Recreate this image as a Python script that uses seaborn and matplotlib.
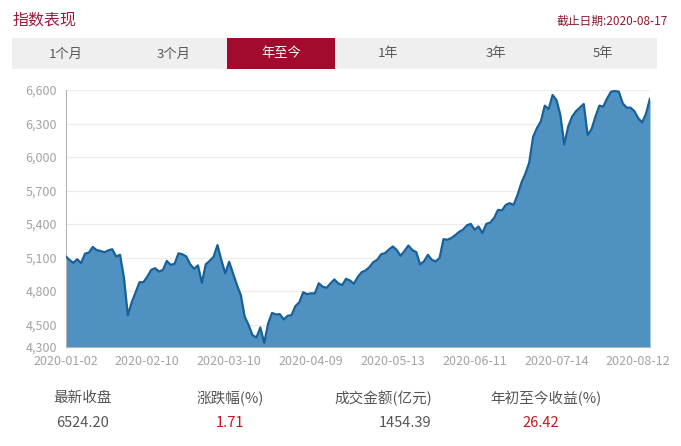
import matplotlib
matplotlib.use("Agg")
import numpy as np
import pandas as pd
import seaborn as sns
import matplotlib.pyplot as plt
from matplotlib.patches import Rectangle

# trading days 2020-01-02 .. 2020-08-17 (SSE holidays removed)
holidays = ["2020-01-24", "2020-01-27", "2020-01-28", "2020-01-29", "2020-01-30", "2020-01-31",
            "2020-04-06", "2020-05-01", "2020-05-04", "2020-05-05", "2020-06-25", "2020-06-26"]
trade_days = pd.bdate_range("2020-01-02", "2020-08-17", freq="C", holidays=holidays)

close = [5113, 5080, 5053, 5085, 5050, 5135, 5145, 5195, 5167, 5160,
         5148, 5165, 5175, 5110, 5125, 4920, 4585, 4700, 4790, 4880,
         4880, 4930, 4990, 5005, 4975, 4990, 5070, 5035, 5045, 5138,
         5130, 5110, 5040, 5000, 5030, 4875, 5040, 5071, 5107, 5212,
         5078, 4958, 5063, 4958, 4854, 4764, 4570, 4496, 4406, 4385,
         4475, 4337, 4510, 4605, 4591, 4594, 4547, 4579, 4585, 4666,
         4700, 4790, 4773, 4780, 4780, 4870, 4840, 4830, 4869, 4905,
         4869, 4854, 4910, 4895, 4866, 4926, 4970, 4985, 5015, 5060,
         5080, 5130, 5140, 5172, 5200, 5168, 5116, 5160, 5208, 5168,
         5150, 5040, 5066, 5125, 5080, 5066, 5096, 5265, 5260, 5275,
         5300, 5330, 5350, 5388, 5402, 5350, 5378, 5320, 5402, 5414,
         5455, 5527, 5522, 5572, 5587, 5572, 5660, 5770, 5850, 5950,
         6180, 6260, 6320, 6460, 6430, 6555, 6510, 6376, 6113, 6272,
         6361, 6410, 6442, 6475, 6197, 6250, 6361, 6460, 6451, 6525,
         6585, 6591, 6585, 6481, 6442, 6442, 6410, 6346, 6310, 6391,
         6524.20]

y_ticks = [4300, 4500, 4800, 5100, 5400, 5700, 6000, 6300, 6600]
tabs = ["1个月", "3个月", "年至今", "1年", "3年", "5年"]
active_tab = "年至今"
stat_names = ["最新收盘", "涨跌幅(%)", "成交金额(亿元)", "年初至今收益(%)"]
stat_values = ["6524.20", "1.71", "1454.39", "26.42"]
stat_red = [False, True, False, True]
title = "指数表现"
as_of = "截止日期:2020-08-17"

df = pd.DataFrame({"date": trade_days, "close": close})
df["pos"] = np.arange(len(df))

sns.set_style("white")
plt.rcParams["font.family"] = ["Noto Sans CJK SC", "DejaVu Sans"]

W, H = 681, 446
fig = plt.figure(figsize=(W / 100, H / 100), dpi=100)

def fx(px):
    return px / W

def fy(py):
    return 1 - py / H

dark_red = "#a20b2e"
gray_txt = "#555555"

# header
fig.text(fx(12), fy(20), title, fontsize=11.5, color="#9b1c3c", va="center", ha="left")
fig.text(fx(668), fy(21), as_of, fontsize=8.5, color="#8e1a30", va="center", ha="right")

# tab bar
bar_l, bar_r, bar_t, bar_b = 12, 657, 38, 69
tab_w = (bar_r - bar_l) / len(tabs)
fig.add_artist(Rectangle((fx(bar_l), fy(bar_b)), fx(bar_r - bar_l), (bar_b - bar_t) / H,
                         transform=fig.transFigure, color="#efefef", lw=0))
for k, name in enumerate(tabs):
    cx = bar_l + tab_w * (k + 0.5)
    if name == active_tab:
        fig.add_artist(Rectangle((fx(bar_l + tab_w * k), fy(bar_b)), fx(tab_w), (bar_b - bar_t) / H,
                                 transform=fig.transFigure, color=dark_red, lw=0))
        col = "white"
    else:
        col = gray_txt
    fig.text(fx(cx), fy(54), name, fontsize=9.5, color=col, ha="center", va="center")

# chart
ax = fig.add_axes([fx(65.5), fy(347), fx(650 - 65.5), (347 - 90) / H])
ax.set_axisbelow(True)
ax.fill_between(df["pos"], df["close"], y_ticks[0], color="#4f92c1", lw=0, zorder=2)
sns.lineplot(data=df, x="pos", y="close", ax=ax, color="#17609a", lw=1.6, zorder=3)
ax.set_xlim(0, len(df) - 1)
ax.set_ylim(y_ticks[0], y_ticks[-1])
ax.set_yticks(y_ticks)
ax.set_yticklabels([f"{v:,}" for v in y_ticks])
tick_rows = df.iloc[::21]
ax.set_xticks(tick_rows["pos"])
ax.set_xticklabels(tick_rows["date"].dt.strftime("%Y-%m-%d"))
ax.set_xlabel("")
ax.set_ylabel("")
ax.grid(axis="y", color="#ececec", lw=0.8)
ax.grid(axis="x", visible=False)
for s in ["top", "right"]:
    ax.spines[s].set_visible(False)
for s in ["left", "bottom"]:
    ax.spines[s].set_color("#b4b4b4")
    ax.spines[s].set_linewidth(0.8)
ax.tick_params(axis="both", direction="out", length=4, width=0.8, color="#b4b4b4",
               labelcolor="#a3a3a3", labelsize=9, pad=2)

# stats row
name_cx = [83, 230, 383, 546]
val_x = [83, 230, 431, 541]
val_ha = ["center", "center", "right", "center"]
for k in range(len(stat_names)):
    fig.text(fx(name_cx[k]), fy(398), stat_names[k], fontsize=10.5, color=gray_txt,
             ha="center", va="center")
    fig.text(fx(val_x[k]), fy(423), stat_values[k], fontsize=10.5,
             color="#c4161c" if stat_red[k] else gray_txt, ha=val_ha[k], va="center")

fig.savefig("out.png", dpi=100, facecolor="white")
